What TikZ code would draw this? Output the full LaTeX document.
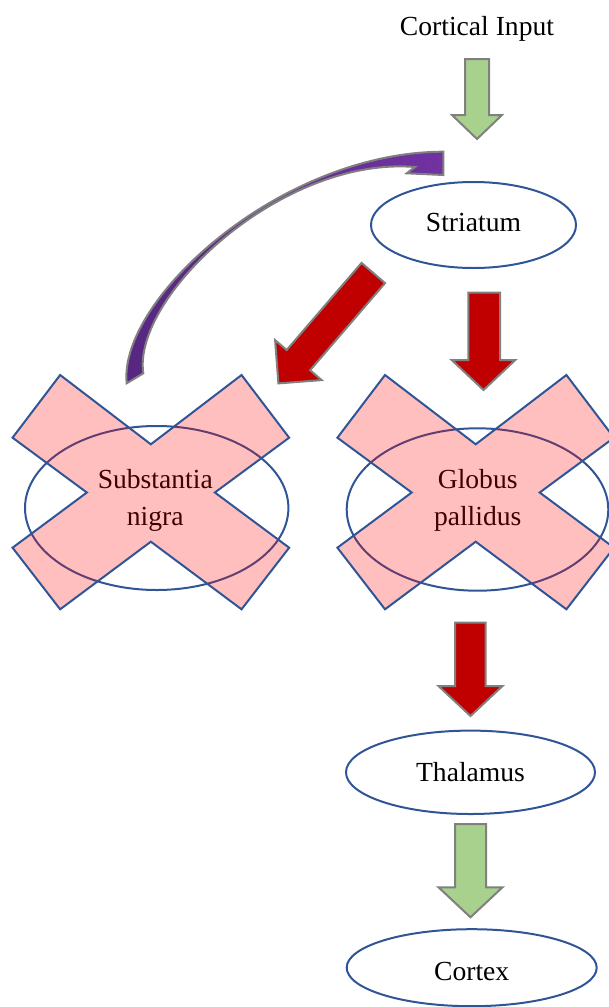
\documentclass[tikz,border=0pt]{standalone}
\usepackage{fontspec}
\setmainfont{Liberation Serif}
\usetikzlibrary{shapes.geometric}
\definecolor{nodeblue}{RGB}{47,85,151}
\definecolor{arrgreen}{RGB}{169,209,142}
\definecolor{arrred}{RGB}{192,0,0}
\definecolor{arrgray}{RGB}{128,128,128}
\definecolor{purpdark}{RGB}{86,38,128}
\definecolor{purplight}{RGB}{114,50,162}
\begin{document}
\begin{tikzpicture}[x=1pt,y=-1pt,
  txt/.style={inner sep=0pt, align=center, font=\fontsize{27.6}{37.4}\selectfont},
  region/.style={ellipse, draw=nodeblue, line width=2pt, inner sep=0pt, align=center, font=\fontsize{27.6}{37.4}\selectfont},
  blockarrow/.style={draw=arrgray, line width=2pt, line join=miter},
  xmark/.style={draw=nodeblue, line width=2pt, fill=red, fill opacity=0.25, line join=miter}]
\useasboundingbox (0,0) rectangle (609,1007);

% title
\node[txt] (input) at (477,28.5) {Cortical Input};

% regions
\node[region, minimum width=205pt, minimum height=86pt, text depth=6pt] (striatum) at (473.5,225) {Striatum};
\node[region, minimum width=263.4pt, minimum height=164pt] (sn) at (156.7,508) {};
\node[txt] (snlabel) at (155.3,500.5) {Substantia\\nigra};
\node[region, minimum width=261.6pt, minimum height=162.4pt] (gp) at (477.5,509.5) {};
\node[txt] (gplabel) at (477.7,500.5) {Globus\\pallidus};
\node[region, minimum width=249pt, minimum height=83.4pt] (thalamus) at (470.5,772.3) {Thalamus};
\node[region, minimum width=250pt, minimum height=77pt, text height=25pt] (cortex) at (471.7,967.7) {Cortex};

% crosses over the damaged regions
\path[xmark, shift={(150.85,492.5)}]
  (0,-48.2) -- (90.7,-117.5) -- (138.3,-54.8) -- (64,0) -- (138.3,55.2) -- (90.7,116.8)
  -- (0,49.2) -- (-90.7,116.8) -- (-138.3,55.2) -- (-64,0) -- (-138.3,-54.8) -- (-90.7,-117.5) -- cycle;
\path[xmark, shift={(475.7,492.5)}]
  (0,-48.2) -- (90.7,-117.5) -- (138.3,-54.8) -- (64,0) -- (138.3,55.2) -- (90.7,116.8)
  -- (0,49.2) -- (-90.7,116.8) -- (-138.3,55.2) -- (-64,0) -- (-138.3,-54.8) -- (-90.7,-117.5) -- cycle;

% block arrows
\draw[blockarrow, fill=arrgreen] (465,59) -- (489,59) -- (489,115) -- (502,115) -- (477,139) -- (452,115) -- (465,115) -- cycle;
\draw[blockarrow, fill=arrred] (468.3,292.7) -- (500,292.7) -- (500,360) -- (515.3,360) -- (483.5,390) -- (451.7,360) -- (468.3,360) -- cycle;
\draw[blockarrow, fill=arrred] (385.05,283.1) -- (361.55,262.9) -- (286.65,350.0) -- (275.1,340.1) -- (278.4,383.4) -- (321.7,380.1) -- (310.15,370.2) -- cycle;
\draw[blockarrow, fill=arrred] (455,622.7) -- (485.7,622.7) -- (485.7,686) -- (502.5,686) -- (470.5,716) -- (438.5,686) -- (455,686) -- cycle;
\draw[blockarrow, fill=arrgreen] (455,824) -- (486,824) -- (486,887.3) -- (502.5,887.3) -- (470.5,917.3) -- (438.5,887.3) -- (455,887.3) -- cycle;

% curved dopamine feedback arrow
\path[draw=arrgray, line width=2pt, line join=miter, left color=purpdark, right color=purplight]
  (126.7,383.3) .. controls (118,300) and (280,152) .. (443.3,151.7)
  -- (443.3,175) -- (406.7,173.3) -- (415,167)
  .. controls (281,156) and (132,297) .. (143.3,373.3) -- cycle;
\end{tikzpicture}
\end{document}
